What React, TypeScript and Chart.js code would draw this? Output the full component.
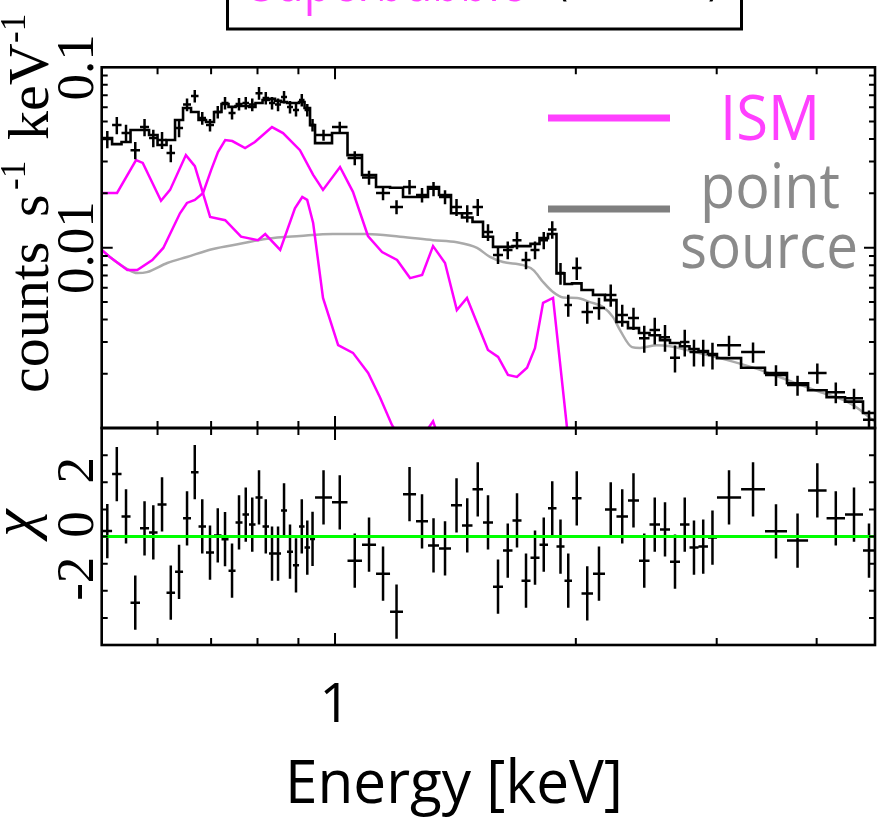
import React, { useEffect, useRef } from "react";
import { Chart, registerables } from "chart.js";

Chart.register(...registerables);

const WIDTH = 877;
const HEIGHT = 821;

const SERIF = '"Liberation Serif", "DejaVu Serif", "Times New Roman", serif';
const SANS = '"Open Sans", "Lato", "DejaVu Sans", sans-serif';

const MAGENTA = "#ff00ff";
const MAGENTA_TEXT = "#ff40ff";
const GRAY_LINE = "#aaaaaa";
const GRAY_KEY = "#7f7f7f";
const GRAY_TEXT = "#8a8a8a";

// Energy range shown on the x axis (keV)
const energyMin = 0.5109;
const energyMax = 4.7315;

// Spectral bin edges (keV)
const binEdges = [
  0.5121, 0.5264, 0.5409, 0.5551, 0.5705, 0.5855, 0.6, 0.6157, 0.631, 0.6457,
  0.6607, 0.6751, 0.6898, 0.7059, 0.7213, 0.736, 0.751, 0.7662, 0.7807, 0.7954,
  0.8117, 0.827, 0.8414, 0.8561, 0.871, 0.886, 0.9016, 0.916, 0.9306, 0.9441,
  0.9914, 1.0366, 1.0808, 1.1253, 1.1716, 1.2162, 1.2626, 1.3069, 1.349, 1.3964,
  1.4413, 1.4854, 1.5311, 1.5758, 1.6218, 1.6667, 1.7105, 1.7554, 1.8015, 1.846,
  1.8917, 1.9358, 1.9781, 2.033, 2.1012, 2.175, 2.2482, 2.3238, 2.3988, 2.4724,
  2.5483, 2.6227, 2.6992, 2.774, 2.8466, 2.9255, 3.0023, 3.2181, 3.4473, 3.6728,
  3.9024, 4.116, 4.3401, 4.5709, 4.7315,
];

// Observed count rate per bin (counts s^-1 keV^-1) and its 1-sigma error
const countRate = [
  0.04, 0.0478, 0.0432, 0.0347, 0.0466, 0.0405, 0.0395, 0.0335, 0.046, 0.0621,
  0.0693, 0.0523, 0.0478, 0.0565, 0.0634, 0.0558, 0.0626, 0.0634, 0.0621, 0.0719,
  0.0676, 0.0634, 0.0621, 0.0685, 0.0603, 0.058, 0.0659, 0.058, 0.0478, 0.0421,
  0.0466, 0.0314, 0.0245, 0.0201, 0.0168, 0.0217, 0.0196, 0.0212, 0.0191, 0.0168,
  0.0155, 0.0168, 0.0122, 0.00911, 0.00971, 0.011, 0.00854, 0.00971, 0.011, 0.0126,
  0.00723, 0.00481, 0.00771, 0.0044, 0.00463, 0.00547, 0.00423, 0.00407, 0.00315, 0.00349,
  0.00319, 0.00245, 0.003, 0.00264, 0.00264, 0.00254, 0.00288, 0.00264, 0.00197, 0.00173,
  0.00202, 0.00158, 0.00146, 0.00111,
];
const countErr = [
  0.0044, 0.0053, 0.0048, 0.0038, 0.0051, 0.0045, 0.0043, 0.0037, 0.0051, 0.005,
  0.0055, 0.0042, 0.0038, 0.0045, 0.0051, 0.0045, 0.005, 0.0051, 0.005, 0.0058,
  0.0054, 0.0051, 0.005, 0.0055, 0.0048, 0.0046, 0.0053, 0.0046, 0.0038, 0.0029,
  0.0033, 0.0028, 0.0022, 0.0018, 0.0015, 0.002, 0.0018, 0.0019, 0.0017, 0.0018,
  0.0017, 0.0018, 0.0013, 0.001, 0.0011, 0.0012, 0.00094, 0.0011, 0.0012, 0.0014,
  0.001, 0.00067, 0.0011, 0.00062, 0.00065, 0.00077, 0.00059, 0.00057, 0.00054, 0.00059,
  0.00054, 0.00042, 0.00051, 0.00045, 0.00045, 0.00043, 0.00037, 0.00034, 0.00026, 0.00022,
  0.00026, 0.00021, 0.00019, 0.00014,
];

// Total folded model per bin
const modelRate = [
  0.0405, 0.0375, 0.0385, 0.0449, 0.0449, 0.0421, 0.0371, 0.0395, 0.051, 0.0595,
  0.0565, 0.051, 0.0497, 0.0565, 0.0626, 0.0603, 0.061, 0.061, 0.0603, 0.0634,
  0.0659, 0.0668, 0.0651, 0.0642, 0.0634, 0.0634, 0.0642, 0.0595, 0.0478, 0.038,
  0.0432, 0.0326, 0.0253, 0.0217, 0.0215, 0.0191, 0.0191, 0.0217, 0.0196, 0.0155,
  0.0147, 0.0139, 0.0115, 0.0101, 0.0101, 0.0102, 0.0102, 0.0105, 0.0113, 0.0119,
  0.0072, 0.00629, 0.00634, 0.00582, 0.00547, 0.00512, 0.00387, 0.00358, 0.00336, 0.00327,
  0.00307, 0.00296, 0.00284, 0.00274, 0.00267, 0.00257, 0.00244, 0.00216, 0.00202, 0.00177,
  0.00162, 0.00148, 0.0014, 0.00121,
];

// Residuals (data - model) / sigma
const chiResid = [
  0.2, 2.3, 0.74, -2.44, 0.3, 0.15, 1.18, -2.07, -1.3, 0.67,
  2.37, 0.37, -0.59, 0.04, -0.1, -1.26, 0.52, 0.81, 0.44, 1.44,
  0.37, -0.63, -0.63, 0.96, -0.56, -1.06, 0.37, -0.41, -0.09, 1.44,
  1.26, -0.89, -0.3, -1.37, -2.77, 1.56, 0.56, -0.33, -0.44, 1.15,
  0.41, 1.74, 0.52, -1.85, -0.52, 0.59, -1.63, -0.78, -0.3, 1.04,
  -0.37, -1.63, 1.41, -2.1, -1.37, 1.0, 0.74, 1.33, -0.89, 0.44,
  0.26, -0.93, 0.44, -0.41, -0.37, -0.04, 1.44, 1.74, 0.19, -0.15,
  1.7, 0.67, 0.81, -0.52,
];

// ISM component, soft thermal part
const ismSoftE = [
  0.511, 0.534, 0.564, 0.575, 0.606, 0.622, 0.651, 0.668, 0.698, 0.729,
  0.763, 0.801, 0.818, 0.854, 0.891, 0.91, 0.923, 0.939, 0.966, 1.009,
  1.053, 1.1, 1.138, 1.178, 1.241, 1.326, 1.392, 1.518,
];
const ismSoftRate = [
  0.0201, 0.0201, 0.0306, 0.0295, 0.0182, 0.0209, 0.0326, 0.0283, 0.0148, 0.0142,
  0.0115, 0.011, 0.0119, 0.00971, 0.0165, 0.0191, 0.0184, 0.0137, 0.00526, 0.00288,
  0.00261, 0.00202, 0.00148, 0.00104, 0.000708, 0.00109, 0.000584, 0.000309,
];

// ISM component, hotter part
const ismHotE = [
  0.511, 0.523, 0.55, 0.566, 0.591, 0.61, 0.64, 0.653, 0.668, 0.684,
  0.7, 0.714, 0.729, 0.744, 0.772, 0.794, 0.834, 0.861, 0.904, 0.939,
  0.966, 1.0145, 1.053, 1.0995, 1.145, 1.1955, 1.241, 1.285, 1.326, 1.3725,
  1.42, 1.462, 1.505, 1.553, 1.599, 1.645, 1.688, 1.738, 1.778, 1.82,
  1.873, 1.95, 1.995,
];
const ismHotRate = [
  0.00971, 0.00888, 0.00751, 0.00751, 0.00854, 0.00996, 0.0155, 0.0177, 0.0184, 0.0201,
  0.0269, 0.0339, 0.0395, 0.039, 0.0357, 0.0385, 0.0466, 0.0432, 0.0347, 0.0253,
  0.0209, 0.028, 0.0204, 0.0116, 0.00946, 0.00854, 0.00678, 0.00705, 0.0102, 0.00822,
  0.00451, 0.00526, 0.00382, 0.00271, 0.00248, 0.00197, 0.00192, 0.00216, 0.00277, 0.00494,
  0.00526, 0.001, 0.000584,
];

// Point source component
const pointSrcE = [
  0.511, 0.523, 0.55, 0.566, 0.582, 0.617, 0.653, 0.704, 0.761, 0.822,
  0.904, 0.994, 1.0965, 1.206, 1.326, 1.42, 1.505, 1.562, 1.622, 1.718,
  1.77, 1.82, 1.873, 1.9275, 2.007, 2.083, 2.163, 2.226, 2.271, 2.351,
  2.406, 2.526, 2.623, 2.754, 2.884, 3.028, 3.332, 3.673, 4.04, 4.365,
  4.532, 4.732,
];
const pointSrcRate = [
  0.00971, 0.00888, 0.00761, 0.00723, 0.00732, 0.00822, 0.00888, 0.00984, 0.0105, 0.0112,
  0.0116, 0.0119, 0.0119, 0.0115, 0.011, 0.0107, 0.00996, 0.00888, 0.00832, 0.008,
  0.00751, 0.00645, 0.00567, 0.00529, 0.00526, 0.00499, 0.00469, 0.00412, 0.00349, 0.00281,
  0.00278, 0.00288, 0.00284, 0.00271, 0.00257, 0.00244, 0.00216, 0.00185, 0.00158, 0.0014,
  0.00126, 0.00108,
];

// Axis ticks
const xTicksMinor = [0.6, 0.7, 0.8, 0.9, 2, 3, 4];
const xTicksMajor = [1];
const xTickLabels = ["1"];
const rateTicksMinor = [
  0.002, 0.003, 0.004, 0.005, 0.006, 0.007, 0.008, 0.009,
  0.02, 0.03, 0.04, 0.05, 0.06, 0.07, 0.08, 0.09,
];
const rateTicksMajor = [0.01];
const rateTickValues = [0.1, 0.01];
const rateTickLabels = ["0.1", "0.01"];
const chiTicks = [-3, -2, -1, 0, 1, 2, 3];
const chiTickValues = [-2, 0, 2];
const chiTickLabels = ["-2", "0", "2"];

type Pt = { x: number; y: number | null };

function crossPoints(vals: number[], lo: number[], hi: number[]): Pt[] {
  const pts: Pt[] = [];
  vals.forEach((v, i) => {
    const e0 = binEdges[i];
    const e1 = binEdges[i + 1];
    const mid = Math.sqrt(e0 * e1);
    pts.push({ x: e0, y: v }, { x: e1, y: v }, { x: e1, y: null });
    pts.push({ x: mid, y: lo[i] }, { x: mid, y: hi[i] }, { x: mid, y: null });
  });
  return pts;
}

function curve(es: number[], vs: number[]): Pt[] {
  return es.map((e, i) => ({ x: e, y: vs[i] }));
}

function rotText(ctx: CanvasRenderingContext2D, text: string, x: number, y: number, font: string, color: string) {
  ctx.save();
  ctx.translate(x, y);
  ctx.rotate(-Math.PI / 2);
  ctx.font = font;
  ctx.fillStyle = color;
  ctx.textAlign = "center";
  ctx.textBaseline = "alphabetic";
  ctx.fillText(text, 0, 0);
  ctx.restore();
}

function fitText(ctx: CanvasRenderingContext2D, text: string, cx: number, baseline: number, font: string, color: string, width: number) {
  ctx.save();
  ctx.font = font;
  const w = ctx.measureText(text).width;
  ctx.translate(cx, baseline);
  ctx.scale(width / w, 1);
  ctx.fillStyle = color;
  ctx.textAlign = "center";
  ctx.textBaseline = "alphabetic";
  ctx.fillText(text, 0, 0);
  ctx.restore();
}

function frameAndTicks(id: string, yMinor: number[], yMajor: number[]) {
  return {
    id,
    afterDatasetsDraw(chart: any) {
      const { ctx, chartArea: a } = chart;
      const xs = chart.scales.x;
      const ys = chart.scales.y;
      ctx.save();
      ctx.strokeStyle = "#000";
      ctx.lineWidth = 2;
      ctx.beginPath();
      const seg = (x1: number, y1: number, x2: number, y2: number) => {
        ctx.moveTo(x1, y1);
        ctx.lineTo(x2, y2);
      };
      xTicksMinor.forEach((e) => {
        const px = xs.getPixelForValue(e);
        seg(px, a.top, px, a.top + 7);
        seg(px, a.bottom, px, a.bottom - 7);
      });
      xTicksMajor.forEach((e) => {
        const px = xs.getPixelForValue(e);
        seg(px, a.top, px, a.top + 12);
        seg(px, a.bottom, px, a.bottom - 12);
      });
      yMinor.forEach((v) => {
        const py = ys.getPixelForValue(v);
        seg(a.left, py, a.left + 6, py);
        seg(a.right, py, a.right - 6, py);
      });
      yMajor.forEach((v) => {
        const py = ys.getPixelForValue(v);
        seg(a.left, py, a.left + 11, py);
        seg(a.right, py, a.right - 11, py);
      });
      ctx.stroke();
      ctx.lineWidth = 2.6;
      ctx.strokeRect(a.left, a.top, a.right - a.left, a.bottom - a.top);
      ctx.restore();
    },
  };
}

const spectrumText = {
  id: "spectrumText",
  afterDraw(chart: any) {
    const { ctx } = chart;
    const ys = chart.scales.y;
    ctx.save();

    // caption box above the panel
    ctx.strokeStyle = "#000";
    ctx.lineWidth = 3;
    ctx.strokeRect(227.5, -20, 514, 49);
    fitText(ctx, "Superbubble", 388, 0.5, `62px ${SANS}`, MAGENTA_TEXT, 275);
    fitText(ctx, "(interior)", 638, -7, `56px ${SANS}`, "#000", 164);

    // component key
    ctx.lineCap = "butt";
    ctx.lineWidth = 7;
    ctx.strokeStyle = MAGENTA_TEXT;
    ctx.beginPath();
    ctx.moveTo(548, 118);
    ctx.lineTo(670, 118);
    ctx.stroke();
    ctx.strokeStyle = GRAY_KEY;
    ctx.beginPath();
    ctx.moveTo(548, 209);
    ctx.lineTo(670, 209);
    ctx.stroke();
    fitText(ctx, "ISM", 770, 140, `63px ${SANS}`, MAGENTA_TEXT, 100);
    fitText(ctx, "point", 770, 208, `62px ${SANS}`, GRAY_TEXT, 140);
    fitText(ctx, "source", 769, 268, `62px ${SANS}`, GRAY_TEXT, 178);

    // rotated tick labels
    rateTickValues.forEach((v, i) => {
      rotText(ctx, rateTickLabels[i], 93, ys.getPixelForValue(v), `53px ${SERIF}`, "#000");
    });

    // rotated axis title: counts s^-1 keV^-1
    ctx.translate(48, 393);
    ctx.rotate(-Math.PI / 2);
    ctx.fillStyle = "#000";
    ctx.textAlign = "left";
    ctx.textBaseline = "alphabetic";
    ctx.font = `58px ${SERIF}`;
    ctx.fillText("counts", 0, 0);
    ctx.fillText("s", 176, 0);
    ctx.font = `35px ${SERIF}`;
    ctx.fillText("-1", 203, -23);
    ctx.font = `58px ${SERIF}`;
    ctx.fillText("keV", 253, 0);
    ctx.font = `35px ${SERIF}`;
    ctx.fillText("-1", 350, -23);
    ctx.restore();
  },
};

const residualText = {
  id: "residualText",
  afterDraw(chart: any) {
    const { ctx } = chart;
    const xs = chart.scales.x;
    const ys = chart.scales.y;
    ctx.save();
    chiTickValues.forEach((v, i) => {
      rotText(ctx, chiTickLabels[i], 93, ys.getPixelForValue(v) - 12, `53px ${SERIF}`, "#000");
    });
    rotText(ctx, "χ", 34, 523, `italic 62px ${SERIF}`, "#000");

    ctx.fillStyle = "#000";
    ctx.textAlign = "center";
    ctx.textBaseline = "alphabetic";
    ctx.font = `54px ${SANS}`;
    xTicksMajor.forEach((e, i) => {
      ctx.fillText(xTickLabels[i], xs.getPixelForValue(e), 722);
    });
    fitText(ctx, "Energy [keV]", 454, 803, `60px ${SANS}`, "#000", 338);
    ctx.restore();
  },
};

const baseOptions = (padding: any, yScale: any) => ({
  animation: false as const,
  responsive: false,
  devicePixelRatio: 1,
  events: [] as any[],
  layout: { padding },
  plugins: { legend: { display: false }, tooltip: { enabled: false } },
  elements: { point: { radius: 0 }, line: { tension: 0, borderCapStyle: "butt" as const } },
  scales: {
    x: { type: "logarithmic" as const, min: energyMin, max: energyMax, display: false },
    y: yScale,
  },
});

export default function App() {
  const topRef = useRef<HTMLCanvasElement>(null);
  const botRef = useRef<HTMLCanvasElement>(null);

  useEffect(() => {
    const modelSteps: Pt[] = binEdges.map((e, i) => ({
      x: e,
      y: modelRate[Math.min(i, modelRate.length - 1)],
    }));
    const spectrumCrosses = crossPoints(
      countRate,
      countRate.map((v, i) => v - countErr[i]),
      countRate.map((v, i) => v + countErr[i])
    );
    const residCrosses = crossPoints(
      chiResid,
      chiResid.map((c) => c - 1),
      chiResid.map((c) => c + 1)
    );

    const top = new Chart(topRef.current as HTMLCanvasElement, {
      type: "line",
      data: {
        datasets: [
          { data: spectrumCrosses as any, borderColor: "#000", borderWidth: 2.5, spanGaps: false },
          { data: modelSteps as any, borderColor: "#000", borderWidth: 2.6, stepped: "before" },
          { data: curve(ismSoftE, ismSoftRate) as any, borderColor: MAGENTA, borderWidth: 2.5 },
          { data: curve(ismHotE, ismHotRate) as any, borderColor: MAGENTA, borderWidth: 2.5 },
          {
            data: curve(pointSrcE, pointSrcRate) as any,
            borderColor: GRAY_LINE,
            borderWidth: 2.5,
            cubicInterpolationMode: "monotone",
          },
        ],
      },
      options: baseOptions(
        { left: 101.7, right: 2, top: 67.3, bottom: 393 },
        { type: "logarithmic", min: 0.001, max: 0.1, display: false }
      ) as any,
      plugins: [frameAndTicks("frameTop", rateTicksMinor, rateTicksMajor), spectrumText],
    });

    const bot = new Chart(botRef.current as HTMLCanvasElement, {
      type: "line",
      data: {
        datasets: [
          {
            data: [
              { x: energyMin, y: 0 },
              { x: energyMax, y: 0 },
            ] as any,
            borderColor: "#00ff00",
            borderWidth: 3,
          },
          { data: residCrosses as any, borderColor: "#000", borderWidth: 2.5, spanGaps: false },
        ],
      },
      options: baseOptions(
        { left: 101.7, right: 2, top: 428, bottom: 176 },
        { type: "linear", min: -4, max: 4, display: false }
      ) as any,
      plugins: [frameAndTicks("frameBottom", chiTicks, []), residualText],
    });

    return () => {
      top.destroy();
      bot.destroy();
    };
  }, []);

  return (
    <div style={{ position: "fixed", left: 0, top: 0, width: WIDTH, height: HEIGHT, background: "#fff" }}>
      <canvas ref={topRef} width={WIDTH} height={HEIGHT} style={{ position: "absolute", left: 0, top: 0 }} />
      <canvas ref={botRef} width={WIDTH} height={HEIGHT} style={{ position: "absolute", left: 0, top: 0 }} />
    </div>
  );
}
